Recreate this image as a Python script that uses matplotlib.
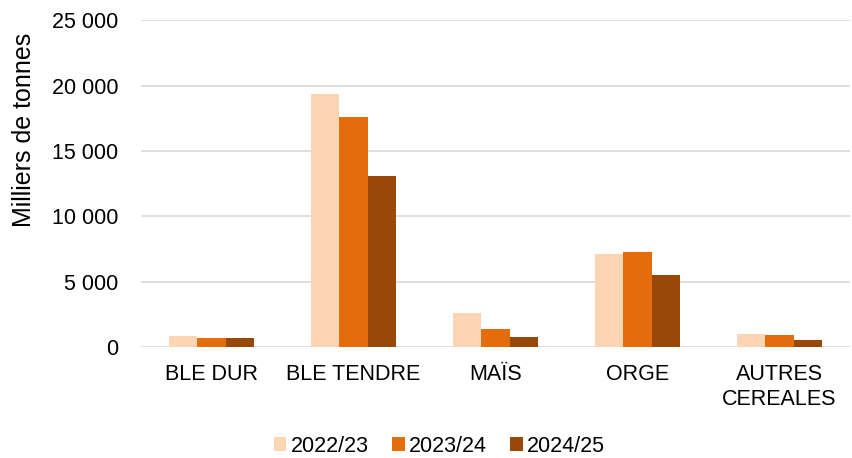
import numpy as np
import matplotlib.pyplot as plt
from matplotlib.ticker import FuncFormatter

plt.rcParams['font.family'] = ['Liberation Sans', 'DejaVu Sans']

categories = ['BLE DUR', 'BLE TENDRE', 'MAÏS', 'ORGE', 'AUTRES\nCEREALES']
campagnes = ['2022/23', '2023/24', '2024/25']
v_2022 = [830, 19360, 2630, 7110, 980]
v_2023 = [720, 17620, 1420, 7260, 930]
v_2024 = [690, 13110, 800, 5510, 540]
couleurs = ['#FCD5B5', '#E46C0A', '#984807']

fig = plt.figure(figsize=(8.52, 4.58), dpi=100)
ax = fig.add_axes([0.165, 0.242, 0.833, 0.714])

x = np.arange(len(categories))
w = 0.2
for i, (serie, c, lab) in enumerate(zip([v_2022, v_2023, v_2024], couleurs, campagnes)):
    ax.bar(x + (i - 1) * w, serie, width=w, color=c, label=lab, zorder=3)

ax.set_xlim(-0.5, len(categories) - 0.5)
ax.set_ylim(0, 25000)
ax.set_yticks(range(0, 25001, 5000))
ax.yaxis.set_major_formatter(FuncFormatter(lambda v, p: f'{int(v):,}'.replace(',', ' ')))
ax.grid(axis='y', color='#D9D9D9', linewidth=1.2, zorder=0)
for s in ax.spines.values():
    s.set_visible(False)
ax.tick_params(axis='both', length=0, labelsize=15.5, colors='#000000')
ax.tick_params(axis='y', pad=16)
ax.tick_params(axis='x', pad=12)
ax.set_xticks(x)
ax.set_xticklabels(categories, linespacing=1.25)

fig.text(24 / 852, 0.716, 'Milliers de tonnes', rotation=90, ha='center', va='center',
         fontsize=18)

fig.legend(loc='center', bbox_to_anchor=(0.516, 0.026), ncol=3, frameon=False,
           fontsize=15.5, handlelength=0.56, handleheight=0.56, handletextpad=0.2,
           columnspacing=1.1, borderpad=0.1)

fig.savefig('out.png', dpi=100)
